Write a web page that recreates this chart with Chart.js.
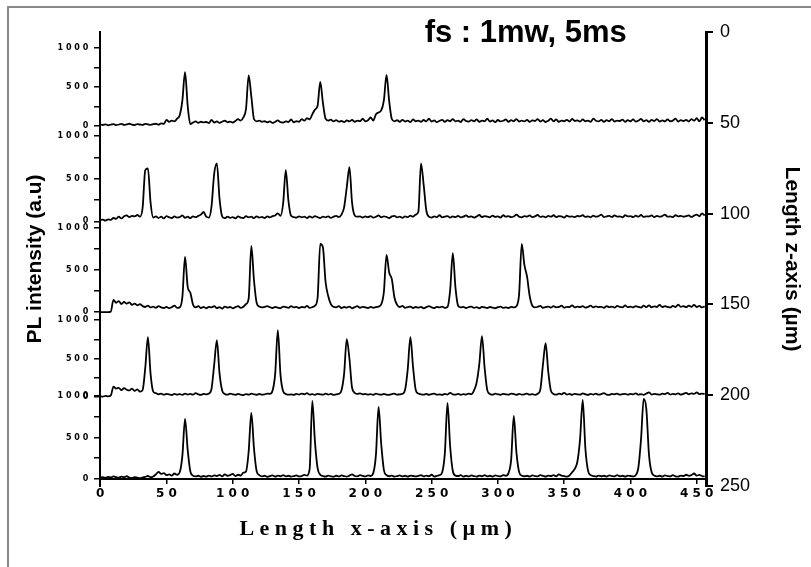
<!DOCTYPE html>
<html>
<head>
<meta charset="utf-8">
<script src="https://cdn.jsdelivr.net/npm/chart.js@4.4.1/dist/chart.umd.min.js"></script>
<style>
html, body { margin: 0; padding: 0; background: #fff; overflow: hidden; }
#wrap { position: relative; width: 811px; height: 567px; }
#plot { position: absolute; left: 0; top: 0; }
#frame { position: absolute; left: 7px; top: 6px; width: 900px; height: 700px; border: 2px solid #8a8a8a; pointer-events: none; }
</style>
</head>
<body>
<div id="wrap">
<canvas id="plot" width="811" height="567"></canvas>
<div id="frame"></div>
</div>
<script>
// one reading every 2 µm along x, starting at 0
const stepX = 2

// PL intensity, top (z = 50) to bottom (z = 250)
const trace1 = [
	20, 14, 22, 10, 18, 25, 12, 20, 28, 15, 22, 30, 18, 12, 26, 20, 15, 28, 22, 16,
	24, 30, 18, 35, 28, 80, 55, 70, 60, 95, 140, 330, 690, 260, 25, 45, 60, 40, 55, 48,
	52, 38, 80, 45, 60, 42, 55, 70, 48, 58, 45, 65, 90, 70, 110, 220, 650, 380, 90, 60,
	70, 55, 62, 48, 60, 40, 55, 72, 50, 45, 60, 52, 85, 48, 62, 55, 90, 70, 100, 85,
	150, 210, 260, 565, 300, 95, 70, 82, 60, 75, 58, 65, 50, 72, 60, 80, 55, 70, 62, 95,
	60, 75, 110, 70, 150, 175, 200, 330, 655, 320, 90, 60, 75, 55, 80, 58, 70, 50, 85, 62,
	70, 55, 78, 60, 95, 58, 72, 50, 68, 80, 55, 75, 62, 88, 60, 70, 52, 90, 65, 58,
	75, 60, 85, 55, 70, 62, 95, 58, 72, 50, 78, 60, 68, 85, 55, 75, 62, 90, 58, 70,
	60, 80, 55, 72, 65, 90, 58, 75, 52, 68, 95, 60, 85, 55, 70, 62, 80, 58, 92, 65,
	72, 58, 85, 62, 70, 55, 95, 68, 60, 80, 55, 75, 62, 90, 58, 70, 65, 82, 55, 75,
	62, 85, 58, 70, 92, 60, 75, 55, 80, 65, 90, 58, 72, 60, 85, 62, 70, 95, 58, 75,
	65, 80, 58, 90, 70, 100, 60, 110, 75
]
const trace2 = [
	15, 20, 10, 25, 18, 40, 30, 55, 35, 60, 70, 50, 65, 60, 75, 55, 160, 600, 620, 220,
	45, 60, 40, 55, 35, 62, 48, 40, 58, 45, 50, 70, 42, 55, 38, 60, 50, 65, 80, 110,
	55, 45, 180, 560, 680, 270, 60, 38, 55, 42, 50, 35, 58, 45, 40, 62, 48, 55, 38, 60,
	45, 52, 40, 58, 48, 62, 70, 95, 65, 210, 600, 240, 65, 50, 45, 60, 48, 55, 40, 58,
	45, 62, 50, 40, 55, 48, 60, 42, 55, 65, 50, 80, 165, 400, 635, 220, 70, 55, 60, 45,
	58, 50, 62, 45, 55, 70, 48, 60, 52, 40, 58, 65, 48, 55, 42, 60, 50, 68, 55, 80,
	110, 680, 430, 130, 55, 45, 60, 50, 72, 48, 55, 62, 45, 58, 50, 65, 48, 55, 70, 52,
	60, 45, 58, 75, 50, 62, 55, 48, 68, 52, 60, 45, 72, 55, 62, 50, 58, 80, 55, 48,
	62, 55, 70, 50, 58, 75, 52, 60, 48, 65, 55, 72, 50, 62, 58, 45, 68, 55, 60, 50,
	65, 58, 72, 52, 60, 48, 68, 55, 62, 80, 50, 58, 65, 52, 70, 55, 60, 48, 72, 58,
	62, 50, 68, 55, 75, 52, 60, 58, 70, 50, 65, 55, 62, 80, 55, 60, 50, 72, 58, 65,
	55, 62, 70, 52, 68, 80, 60, 95, 70
]
const trace3 = [
	0, 0, 0, 0, 5, 145, 110, 130, 95, 120, 100, 115, 85, 100, 80, 95, 70, 60, 75, 55,
	65, 50, 70, 55, 48, 60, 45, 58, 75, 50, 55, 180, 655, 300, 230, 90, 55, 70, 48, 60,
	45, 62, 55, 70, 48, 58, 40, 65, 52, 60, 45, 58, 70, 50, 62, 95, 160, 786, 380, 110,
	65, 55, 62, 70, 58, 48, 60, 52, 45, 65, 58, 50, 70, 55, 62, 48, 60, 55, 72, 50,
	58, 75, 170, 810, 770, 360, 190, 95, 62, 55, 70, 48, 60, 52, 65, 45, 58, 70, 50, 62,
	55, 48, 62, 50, 58, 65, 90, 240, 680, 470, 390, 170, 85, 60, 72, 50, 58, 65, 48, 60,
	52, 62, 45, 58, 70, 55, 48, 62, 55, 65, 50, 60, 260, 700, 290, 75, 55, 62, 48, 58,
	65, 50, 58, 45, 62, 55, 48, 60, 52, 45, 58, 65, 50, 55, 48, 62, 55, 70, 210, 810,
	560, 420, 190, 75, 55, 62, 72, 50, 58, 65, 52, 70, 55, 60, 75, 52, 62, 58, 80, 55,
	65, 58, 70, 52, 62, 75, 55, 68, 58, 62, 50, 70, 58, 65, 52, 72, 60, 55, 78, 58,
	65, 55, 70, 60, 52, 75, 58, 80, 55, 68, 60, 85, 58, 70, 62, 55, 72, 60, 88, 62,
	70, 58, 75, 62, 85, 60, 72, 55, 68
]
const trace4 = [
	10, 5, 15, 8, 20, 135, 110, 120, 90, 115, 95, 85, 110, 80, 100, 70, 90, 380, 779, 300,
	70, 50, 35, 45, 30, 40, 35, 25, 42, 30, 38, 28, 45, 32, 40, 30, 50, 35, 28, 40,
	35, 45, 110, 420, 740, 310, 85, 40, 30, 45, 35, 28, 40, 32, 25, 38, 30, 45, 35, 28,
	40, 30, 35, 45, 40, 80, 300, 870, 290, 75, 40, 30, 35, 28, 40, 32, 45, 35, 50, 30,
	38, 28, 42, 35, 30, 45, 32, 40, 28, 35, 42, 85, 300, 753, 500, 120, 55, 40, 48, 35,
	42, 30, 38, 28, 45, 35, 30, 40, 32, 28, 38, 45, 30, 35, 42, 95, 360, 779, 390, 95,
	45, 35, 30, 40, 28, 38, 45, 30, 35, 28, 40, 32, 55, 35, 30, 42, 28, 38, 32, 45,
	35, 85, 190, 430, 792, 380, 90, 40, 30, 45, 35, 28, 42, 35, 30, 45, 38, 28, 40, 32,
	35, 45, 30, 38, 28, 42, 95, 420, 700, 330, 80, 40, 30, 45, 35, 55, 32, 40, 28, 42,
	35, 30, 48, 35, 28, 40, 32, 45, 30, 38, 50, 32, 28, 40, 35, 45, 30, 38, 42, 30,
	40, 35, 48, 30, 38, 28, 45, 60, 32, 40, 35, 30, 45, 38, 55, 32, 40, 35, 48, 30,
	42, 55, 35, 48, 40, 60, 38, 45, 40
]
const trace5 = [
	15, 20, 12, 25, 18, 30, 22, 15, 28, 20, 32, 15, 10, 22, 15, 8, 18, 25, 35, 20,
	30, 55, 85, 60, 70, 45, 55, 40, 65, 50, 80, 280, 723, 350, 90, 40, 30, 38, 25, 35,
	28, 40, 30, 42, 35, 48, 30, 55, 38, 45, 60, 35, 50, 40, 75, 90, 330, 795, 370, 95,
	45, 30, 38, 25, 35, 42, 28, 40, 32, 45, 30, 38, 28, 35, 42, 30, 35, 48, 40, 120,
	940, 450, 130, 50, 35, 28, 40, 32, 25, 38, 30, 42, 35, 28, 40, 55, 35, 30, 45, 38,
	30, 42, 35, 70, 290, 867, 420, 110, 45, 32, 40, 28, 35, 42, 30, 38, 28, 40, 35, 30,
	38, 45, 30, 40, 32, 50, 28, 38, 45, 80, 310, 916, 390, 95, 40, 35, 45, 28, 38, 30,
	42, 35, 28, 40, 32, 45, 30, 38, 28, 42, 35, 30, 45, 38, 70, 230, 759, 320, 85, 40,
	32, 38, 28, 42, 35, 30, 45, 38, 28, 40, 35, 45, 30, 55, 40, 35, 28, 42, 80, 120,
	210, 480, 952, 370, 100, 45, 35, 28, 40, 32, 38, 28, 42, 35, 30, 45, 32, 38, 28, 40,
	35, 30, 45, 140, 480, 964, 840, 290, 80, 40, 30, 38, 28, 42, 35, 30, 45, 32, 28, 40,
	35, 50, 38, 45, 65, 40, 48, 35, 30
]
const traces = [trace1, trace2, trace3, trace4, trace5]

const xTicks = [0, 50, 100, 150, 200, 250, 300, 350, 400, 450]
const intensityTicks = [0, 250, 500, 750, 1000]
const zTicks = [0, 50, 100, 150, 200, 250]

const heading = 'fs : 1mw, 5ms'
const xTitle = 'Length x-axis (µm)'
const yTitle = 'PL intensity (a.u)'
const zTitle = 'Length z-axis (µm)'

// where each spectrum box sits along the z axis: top (=1000) and baseline (=0)
const panelTop = [8.8, 57.3, 107.9, 158.6, 200.4]
const panelBase = [51.8, 104.3, 154.2, 201.0, 246.1]

const spread = s => String(s).split('').join(' ')
const fixTicks = list => scale => { scale.ticks = list.map(v => ({ value: v })) }

const scales = {
	x: {
		type: 'linear',
		position: { y4: 0 },
		min: 0,
		max: 457,
		afterBuildTicks: fixTicks(xTicks),
		ticks: {
			autoSkip: false,
			maxRotation: 0,
			padding: 4,
			color: '#000',
			font: { family: 'DejaVu Sans', size: 12, weight: 'bold' },
			callback: v => spread(v)
		},
		grid: { drawOnChartArea: false, color: '#000', tickLength: 4, lineWidth: 1.5 },
		border: { color: '#000', width: 2 },
		title: {
			display: true,
			// the trailing gap pulls the centred title a little to the left, as in the figure
			text: spread(xTitle) + '\u2003\u2003\u2002',
			color: '#000',
			font: { family: 'Liberation Serif', size: 22, weight: 'bold' },
			padding: { top: 11, bottom: 0 }
		}
	},
	z: {
		type: 'linear',
		position: 'right',
		reverse: true,
		min: 0,
		max: 250,
		afterBuildTicks: fixTicks(zTicks),
		afterFit: s => { s.width = 100 },
		ticks: {
			padding: 7,
			color: '#000',
			font: { family: 'Liberation Sans', size: 18 }
		},
		grid: { drawOnChartArea: false, color: '#000', tickLength: 7, lineWidth: 2 },
		border: { color: '#000', width: 3 },
		title: {
			display: true,
			text: zTitle,
			color: '#000',
			font: { family: 'Liberation Sans', size: 21, weight: 'bold' },
			padding: { top: 2, bottom: 0 }
		}
	}
}

panelTop.forEach((top, i) => {
	const span = panelBase[i] - top
	scales['y' + i] = {
		type: 'linear',
		axis: 'y',
		position: { x: 0 },
		min: (panelBase[i] - 250) / span * 1000,
		max: panelBase[i] / span * 1000,
		afterBuildTicks: fixTicks(intensityTicks),
		ticks: {
			autoSkip: false,
			color: '#000',
			font: { family: 'DejaVu Sans', size: 8, weight: 'bold' },
			// labels of an axis placed at x = 0 sit flush on the line, so leave a gap
			callback: v => v % 500 === 0 ? spread(v) + '\u2003\u2002' : ''
		},
		grid: { drawOnChartArea: false, color: '#000', tickLength: 5, lineWidth: 1.5 },
		border: { color: '#000', width: 2 }
	}
})

const datasets = traces.map((trace, i) => ({
	label: 'z' + (i + 1),
	yAxisID: 'y' + i,
	data: trace.map((v, k) => ({ x: k * stepX, y: v })),
	borderColor: '#000',
	borderWidth: 1.8,
	pointRadius: 0,
	cubicInterpolationMode: 'monotone',
	fill: false
}))

const headingPlugin = {
	id: 'heading',
	afterDraw(chart) {
		const ctx = chart.ctx
		ctx.save()
		ctx.font = 'bold 31px "Liberation Sans"'
		ctx.fillStyle = '#000'
		ctx.textAlign = 'center'
		ctx.textBaseline = 'alphabetic'
		ctx.fillText(heading, chart.scales.x.getPixelForValue(321), chart.scales.z.getPixelForValue(5.5))
		ctx.restore()
	}
}

const chart = new Chart(document.getElementById('plot'), {
	type: 'line',
	data: { datasets: datasets },
	options: {
		responsive: false,
		animation: false,
		layout: { padding: { left: 8, right: 5, top: 32, bottom: 81 } },
		plugins: {
			legend: { display: false },
			tooltip: { enabled: false },
			title: {
				display: true,
				position: 'left',
				text: yTitle,
				color: '#000',
				font: { family: 'Liberation Sans', size: 21, weight: 'bold' },
				padding: { top: 15, bottom: 52 }
			}
		},
		scales: scales
	},
	plugins: [headingPlugin]
})
</script>
</body>
</html>
